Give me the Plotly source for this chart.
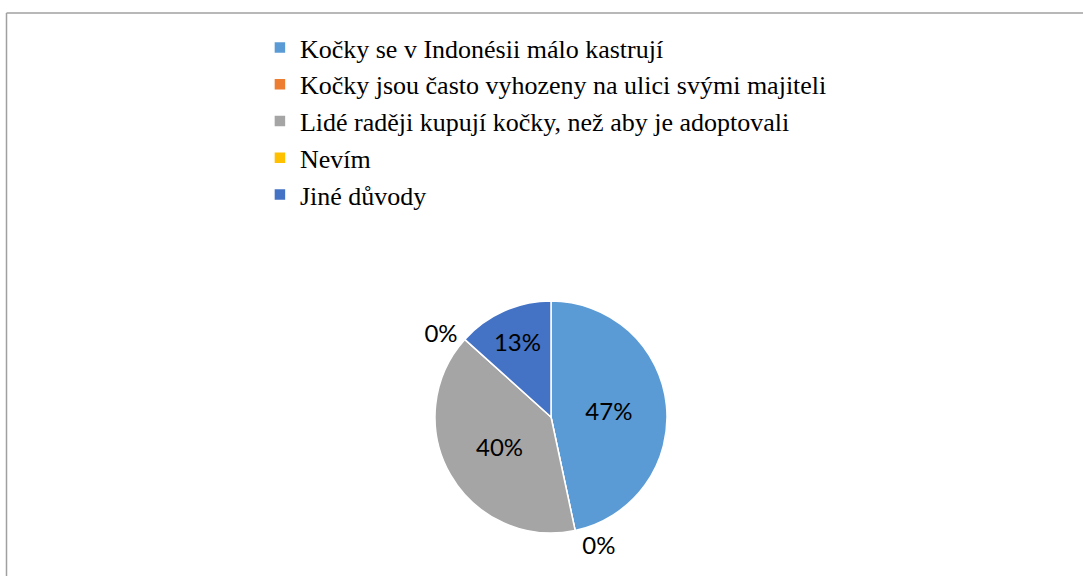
import plotly.graph_objects as go

# Survey answers (number of respondents; shares shown as percentages)
categories = [
    "Kočky se v Indonésii málo kastrují",
    "Kočky jsou často vyhozeny na ulici svými majiteli",
    "Lidé raději kupují kočky, než aby je adoptovali",
    "Nevím",
    "Jiné důvody",
]
counts = [7, 0, 6, 0, 2]
slice_colors = ["#5B9BD5", "#ED7D31", "#A5A5A5", "#FFC000", "#4472C4"]
text_positions = ["inside", "outside", "inside", "outside", "inside"]

W, H = 1083, 576
cx, cy, r = 551, 417, 116
label_font = dict(family="Lato, Carlito, sans-serif", size=24, color="#000000")

fig = go.Figure(
    go.Pie(
        labels=categories,
        values=counts,
        sort=False,
        direction="clockwise",
        rotation=0,
        marker=dict(colors=slice_colors, line=dict(color="white", width=1.5)),
        texttemplate="%{percent:.0%}",
        textposition=text_positions,
        insidetextorientation="horizontal",
        textfont=label_font,
        outsidetextfont=label_font,
        insidetextfont=label_font,
        hoverinfo="label+percent",
        domain=dict(
            x=[(cx - r) / W, (cx + r) / W],
            y=[(H - cy - r) / H, (H - cy + r) / H],
        ),
        showlegend=True,
    )
)

fig.update_layout(
    width=W,
    height=H,
    margin=dict(l=0, r=0, t=0, b=0),
    paper_bgcolor="white",
    plot_bgcolor="white",
    legend=dict(
        x=0.240,
        y=1 - 24 / H,
        xanchor="left",
        yanchor="top",
        font=dict(family="Liberation Serif, Times New Roman, serif", size=26, color="#000000"),
        bgcolor="rgba(0,0,0,0)",
        tracegroupgap=0,
        itemwidth=30,
    ),
    shapes=[
        dict(type="line", xref="paper", yref="paper",
             x0=6.5 / W, x1=1.0, y0=1 - 13 / H, y1=1 - 13 / H,
             line=dict(color="#A0A0A0", width=1.5)),
        dict(type="line", xref="paper", yref="paper",
             x0=6.5 / W, x1=6.5 / W, y0=0, y1=1 - 13 / H,
             line=dict(color="#A0A0A0", width=1.5)),
    ],
)

fig.write_html(
    "out.html",
    config={"displayModeBar": False},
    post_script="document.body.style.margin='0';document.body.style.overflow='hidden';",
)
